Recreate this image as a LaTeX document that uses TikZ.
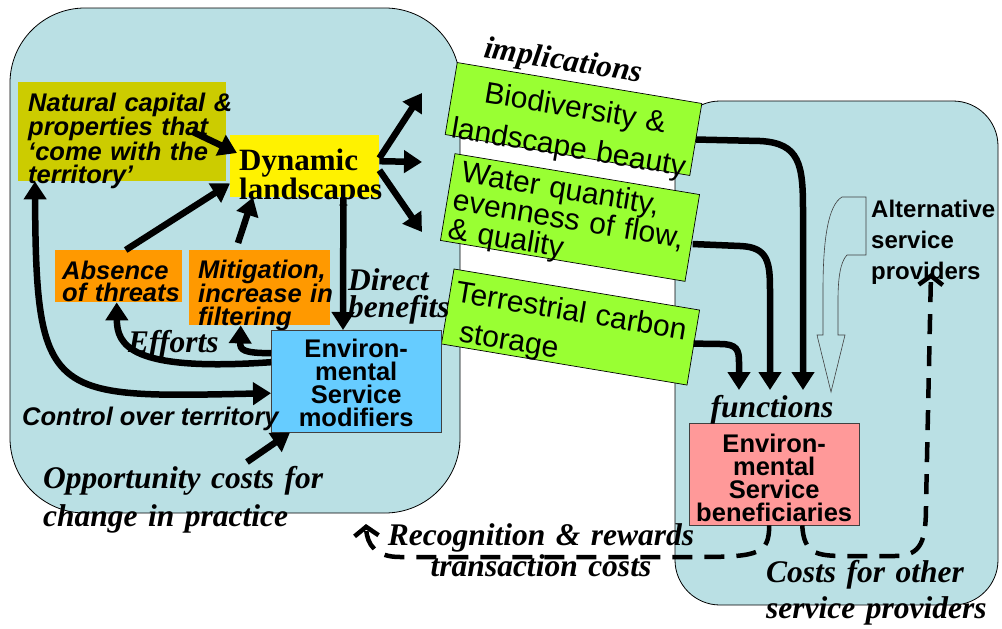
\documentclass[tikz,border=0pt]{standalone}
\usepackage{fontspec}
\setmainfont{Liberation Serif}
\setsansfont{Liberation Sans}
\usetikzlibrary{arrows.meta}
\definecolor{panelblue}{RGB}{186,224,228}
\definecolor{natolive}{RGB}{204,204,0}
\definecolor{threatorange}{RGB}{255,153,0}
\definecolor{modblue}{RGB}{102,204,255}
\definecolor{servlime}{RGB}{153,255,51}
\definecolor{benrose}{RGB}{255,153,153}
\hyphenpenalty=10000
\exhyphenpenalty=10000
\begin{document}
\begin{tikzpicture}[x=1pt,y=-1pt]
		\tikzset{panel/.style={draw,line width=0.8pt,fill=panelblue,rounded corners=75pt},
			box/.style={anchor=north west,inner ysep=0pt,align=left},
			sfbi/.style={font=\sffamily\bfseries\itshape\fontsize{25.5}{22.5}\selectfont},
			sfb/.style={font=\sffamily\bfseries\fontsize{25.5}{23}\selectfont},
			service/.style={draw,line width=0.7pt,fill=servlime,rotate=-9.5,inner ysep=0pt},
			remark/.style={inner sep=0pt,font=\bfseries\itshape\fontsize{31.5}{33}\selectfont},
			flow/.style={line width=6.5pt,>={Triangle[length=18pt,width=22pt]},->},
			costs/.style={line width=4.5pt,dash pattern=on 20pt off 12pt,-{Straight Barb[length=9pt,width=24pt]}}}
		\useasboundingbox (0,0) rectangle (1002,629);
		\draw[panel] (10,8) rectangle (460,513);
		\draw[panel,rounded corners=45pt] (675,101) rectangle (998,605);
		\node (bio) [service,inner xsep=0pt,text width=248pt,align=center,text height=35pt,text depth=38pt,font=\sffamily\fontsize{30}{40}\selectfont] at (573.5,119) {Biodiversity~\&\\landscape~beauty};
		\node (wat) [service,inner xsep=6pt,text width=236pt,align=left,text height=27pt,text depth=61pt,font=\sffamily\fontsize{30}{29}\selectfont] at (570,217.5) {\hspace*{4pt}Water~quantity,\\evenness~of~flow,\\\&~quality};
		\node (carb) [service,inner xsep=6pt,text width=237pt,align=left,text height=32pt,text depth=44pt,font=\sffamily\fontsize{30}{39}\selectfont] at (570.5,327) {Terrestrial~carbon\\\hspace*{10pt}storage};
		\node (nat) [box,sfbi,fill=natolive,inner xsep=10pt,text width=188pt,text height=29pt,text depth=70pt] at (18,82) {Natural~capital~\&\\properties~that\\‘come~with~the\\territory’};
		\node (dyn) [box,fill=yellow,inner xsep=9pt,text width=131pt,text height=35pt,text depth=27pt,font=\bfseries\fontsize{31}{25}\selectfont] at (230,135) {Dynamic\\landscapes};
		\node (abs) [box,sfbi,fill=threatorange,inner xsep=7pt,text width=113pt,text height=29pt,text depth=23pt] at (55,250) {Absence\\of~threats};
		\node (mit) [box,sfbi,fill=threatorange,inner xsep=9pt,text width=123pt,text height=28pt,text depth=47pt] at (189,250) {Mitigation,\\increase~in\\filtering};
		\node (mod) [box,sfb,draw=darkgray,fill=modblue,inner xsep=0pt,text width=170pt,align=center,text height=27pt,text depth=75pt] at (271,330) {Environ-\\mental\\Service\\modifiers};
		\node (ben) [box,sfb,draw=darkgray,fill=benrose,inner xsep=0pt,text width=170pt,align=center,text height=29pt,text depth=73pt] at (689,423) {Environ-\\mental\\Service\\beneficiaries};
		\node (eff) [remark,anchor=base west] at (128,352) {Efforts};
		\node (dir) [remark,anchor=base west,text width=110pt,align=left,font=\bfseries\itshape\fontsize{31.5}{27}\selectfont] at (348,290) {Direct\\benefits};
		\node (ctl) [sfbi,inner sep=0pt,anchor=base west] at (22,425) {Control over territory};
		\node (opp) [remark,anchor=base west,text width=300pt,align=left,font=\bfseries\itshape\fontsize{31.5}{38}\selectfont] at (43,488) {Opportunity costs for\\change in practice};
		\node (impl) [remark,anchor=base,rotate=-9] at (562,70) {implications};
		\node (func) [remark,anchor=base] at (772,417) {functions};
		\node (alt) [inner sep=0pt,anchor=base west,text width=126pt,align=left,font=\sffamily\bfseries\fontsize{24}{31}\selectfont] at (871,217) {Alternative\\service\\providers};
		\node (rec) [remark,anchor=base,text width=320pt,align=center,font=\bfseries\itshape\fontsize{31.5}{31}\selectfont] at (541,545) {Recognition \& rewards\\transaction costs};
		\node (cst) [remark,anchor=base west,text width=240pt,align=left,font=\bfseries\itshape\fontsize{31.5}{36}\selectfont] at (766,582) {Costs for other\\service providers};
		\coordinate (up) at (422,93);
		\coordinate (mid) at (422,162);
		\coordinate (down) at (422,232);
		\coordinate (fa) at (739,390);
		\coordinate (fb) at (770,390);
		\coordinate (fc) at (803,390);
		\coordinate (oc) at (247,462);
		\coordinate (rw) at (366,524);
		\coordinate (ap) at (931,273);
		\draw[flow] ([xshift=-34pt]nat.east) -- ([shift={(7,18)}]dyn.north west);
		\draw[flow] ([xshift=7pt]abs.north) -- ([shift={(0,-14)}]dyn.south west);
		\draw[flow] ([shift={(49,-7)}]mit.north west) -- ([xshift=23pt]dyn.south west);
		\draw[flow] ([yshift=8pt]dyn.east) -- (up);
		\draw[flow] ([yshift=5pt]dyn.east) -- (mid);
		\draw[flow] ([yshift=-4pt]dyn.east) -- (down);
		\draw[flow] ([xshift=-36pt]dyn.south east) -- ([xshift=72pt]mod.north west);
		\draw[flow,<->] ([xshift=17pt]nat.south west) .. controls (36,400) and (50,398) .. ([shift={(0,12)}]mod.west);
		\draw[flow] ([shift={(0,-19)}]mod.west) .. controls (130,372) and (117,345) .. ([xshift=-2pt]abs.south);
		\draw[flow] ([shift={(0,-28)}]mod.west) .. controls (243,353) and (240,350) .. ([xshift=-19pt]mit.south);
		\draw[flow] (oc) -- ([xshift=19pt]mod.south west);
		\draw[flow] (bio.east) -- (760,141) .. controls (800,143) and (803,165) .. (803,210) -- (fc);
		\draw[flow] ([shift={(0,6)}]wat.east) -- (740,246) .. controls (768,247) and (770,262) .. (770,290) -- (fb);
		\draw[flow] ([shift={(0,-4)}]carb.east) -- (720,344) .. controls (737,344) and (739,350) .. (739,362) -- (fa);
		\draw[draw=darkgray,line width=0.6pt] (842,197) -- (866,197) -- (866,255) -- (847,255) .. controls (840,262) and (838,280) .. (838,300) -- (838,335) -- (845,335) -- (831,392) -- (817,335) -- (823,335) -- (823,290) .. controls (823,240) and (828,205) .. (842,197) -- cycle;
		\draw[costs] ([xshift=-5pt]ben.south) .. controls (769,553) and (760,557) .. (700,557) -- (400,557) .. controls (376,557) and (367,545) .. (rw);
		\draw[costs] ([xshift=28pt]ben.south) .. controls (804,553) and (815,556) .. (845,556) -- (895,556) .. controls (922,556) and (926,540) .. (926,505) -- (ap);
	\end{tikzpicture}
\end{document}
